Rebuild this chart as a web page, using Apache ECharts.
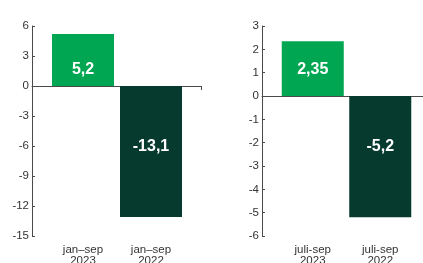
<!DOCTYPE html>
<html>
<head>
<meta charset="utf-8">
<script src="https://cdn.jsdelivr.net/npm/echarts@6/dist/echarts.min.js"></script>
<style>
  html, body { margin: 0; padding: 0; background: #ffffff; }
  #chart { width: 423px; height: 263px; }
</style>
</head>
<body>
<div id="chart"></div>
<script>
// ---- data ----
const leftCategories = ['jan–sep\n2023', 'jan–sep\n2022'];
const leftValues = [5.2, -13.1];
const leftTicks = { min: -15, max: 6, interval: 3 };

const rightCategories = ['juli-sep\n2023', 'juli-sep\n2022'];
const rightValues = [2.35, -5.2];
const rightTicks = { min: -6, max: 3, interval: 1 };

// ---- style ----
const barColors = ['#00a651', '#063a2f'];
const axisColor = '#4a4a4a';
const textColor = '#333333';
const fontFamily = '"Liberation Sans", Arial, sans-serif';
const leftLabelOffsets = [10, -5];
const rightLabelOffsets = [1.5, -10];

const fmt = v => String(v).replace('.', ',');

const gridBase = { top: 26, height: 210, containLabel: false, outerBoundsMode: 'none' };
const outerGrids = [
  Object.assign({ left: 32, width: 169 }, gridBase),
  Object.assign({ left: 262, width: 169 }, gridBase)
];
const innerGrids = [
  Object.assign({ left: 49, width: 136 }, gridBase),
  Object.assign({ left: 279, width: 135 }, gridBase)
];

function outerX(gi) {
  return {
    type: 'category', gridIndex: gi, data: [''], boundaryGap: true,
    axisLine: { show: true, onZero: true, lineStyle: { color: axisColor, width: 1 } },
    axisTick: { show: true, length: 4, interval: 0, lineStyle: { color: axisColor } },
    axisLabel: { show: false }, splitLine: { show: false }
  };
}
function outerY(gi, t) {
  return {
    type: 'value', gridIndex: gi, min: t.min, max: t.max, interval: t.interval,
    axisLine: { show: true, lineStyle: { color: axisColor, width: 1 } },
    axisTick: { show: true, inside: true, length: 3, lineStyle: { color: axisColor } },
    axisLabel: { show: true, margin: 3, color: textColor, fontSize: 11.5, fontFamily: fontFamily },
    splitLine: { show: false }
  };
}
function innerX(gi, cats) {
  return {
    type: 'category', gridIndex: gi, data: cats, boundaryGap: true,
    axisLine: { show: false }, axisTick: { show: false },
    axisLabel: { show: true, margin: 8, color: textColor, fontSize: 11.5, lineHeight: 11.5, fontFamily: fontFamily, interval: 0 },
    splitLine: { show: false }
  };
}
function innerY(gi, t) {
  return { type: 'value', gridIndex: gi, min: t.min, max: t.max, interval: t.interval, show: false, splitLine: { show: false } };
}
function barSeries(axisIdx, values, offsets) {
  return {
    type: 'bar', xAxisIndex: axisIdx, yAxisIndex: axisIdx, barWidth: 62,
    data: values.map((v, i) => ({
      value: v,
      itemStyle: { color: barColors[i] },
      label: { offset: [0, offsets[i]] }
    })),
    label: {
      show: true, position: 'inside', color: '#ffffff', fontSize: 16, fontWeight: 'bold',
      fontFamily: fontFamily, formatter: p => fmt(p.value)
    }
  };
}

const chart = echarts.init(document.getElementById('chart'), null, { renderer: 'canvas' });
chart.setOption({
  animation: false,
  backgroundColor: '#ffffff',
  grid: [outerGrids[0], outerGrids[1], innerGrids[0], innerGrids[1]],
  xAxis: [outerX(0), outerX(1), innerX(2, leftCategories), innerX(3, rightCategories)],
  yAxis: [outerY(0, leftTicks), outerY(1, rightTicks), innerY(2, leftTicks), innerY(3, rightTicks)],
  series: [barSeries(2, leftValues, leftLabelOffsets), barSeries(3, rightValues, rightLabelOffsets)]
});
</script>
</body>
</html>
